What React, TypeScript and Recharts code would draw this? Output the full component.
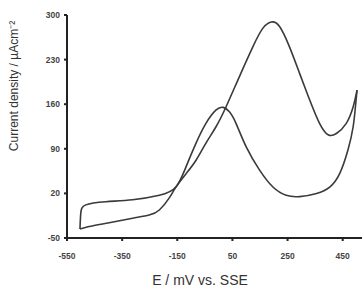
import { LineChart, Line, XAxis, YAxis } from "recharts";

// anodic (forward) sweep, mV vs SSE and µA/cm²
const forwardPotential = [
  -503, -470, -397, -312, -252, -215, -179, -155, -118, -82, -46, -9, 27, 75, 124, 160, 191, 221, 257,
  294, 330, 366, 397, 427, 463, 488, 502,
];
const forwardCurrent = [
  -36, -32, -26, -19, -14, -6, 13, 30, 51, 72, 99, 125, 156, 203, 250, 279, 289, 282, 250, 208, 167,
  130, 112, 114, 130, 156, 182,
];

// cathodic (reverse) sweep
const reversePotential = [
  502, 497, 488, 469, 439, 403, 355, 294, 245, 197, 148, 100, 63, 39, 17, -9, -46, -82, -118, -155,
  -215, -312, -409, -482, -500, -503,
];
const reverseCurrent = [
  182, 160, 125, 88, 51, 30, 20, 15, 17, 30, 57, 93, 130, 148, 155, 151, 130, 99, 62, 30, 17, 10, 7, 2,
  -11, -36,
];

const xTicks = [-550, -350, -150, 50, 250, 450];
const yTicks = [-50, 20, 90, 160, 230, 300];

const forward = forwardPotential.map((E, i) => ({ E, I: forwardCurrent[i] }));
const reverse = reversePotential.map((E, i) => ({ E, I: reverseCurrent[i] }));

const font = "'Liberation Sans', Arial, sans-serif";
const tickStyle = { fill: "#444", fontSize: 8.5, fontWeight: 600, fontFamily: font };
const axisColor = "#222";

export default function App() {
  return (
    <div style={{ position: "absolute", left: 0, top: 0, background: "#fff" }}>
      <LineChart
        width={362}
        height={289}
        data={forward}
        margin={{ top: 15, right: 0, bottom: 0, left: 0 }}
      >
        <XAxis
          type="number"
          dataKey="E"
          domain={[-550, 520]}
          ticks={xTicks}
          allowDataOverflow
          height={51}
          tickSize={3}
          tickMargin={12}
          stroke={axisColor}
          strokeWidth={2}
          tick={tickStyle}
          label={{
            content: () => (
              <text x={200} y={285} textAnchor="middle" fontSize={14} fontFamily={font} fill="#333">
                E / mV vs. SSE
              </text>
            ),
          }}
        />
        <YAxis
          type="number"
          dataKey="I"
          domain={[-50, 300]}
          ticks={yTicks}
          width={67}
          tickSize={3}
          tickMargin={4}
          stroke={axisColor}
          strokeWidth={2}
          tick={tickStyle}
          label={{
            content: () => (
              <text
                x={14}
                y={86}
                transform="rotate(-90 14 86)"
                textAnchor="middle"
                dominantBaseline="central"
                fontSize={12}
                fontFamily={font}
                fill="#333"
              >
                Current density / µAcm⁻²
              </text>
            ),
          }}
        />
        <Line
          data={forward}
          dataKey="I"
          type="natural"
          stroke="#3a3a3a"
          strokeWidth={1.6}
          dot={false}
          isAnimationActive={false}
        />
        <Line
          data={reverse}
          dataKey="I"
          type="natural"
          stroke="#3a3a3a"
          strokeWidth={1.6}
          dot={false}
          isAnimationActive={false}
        />
      </LineChart>
    </div>
  );
}
